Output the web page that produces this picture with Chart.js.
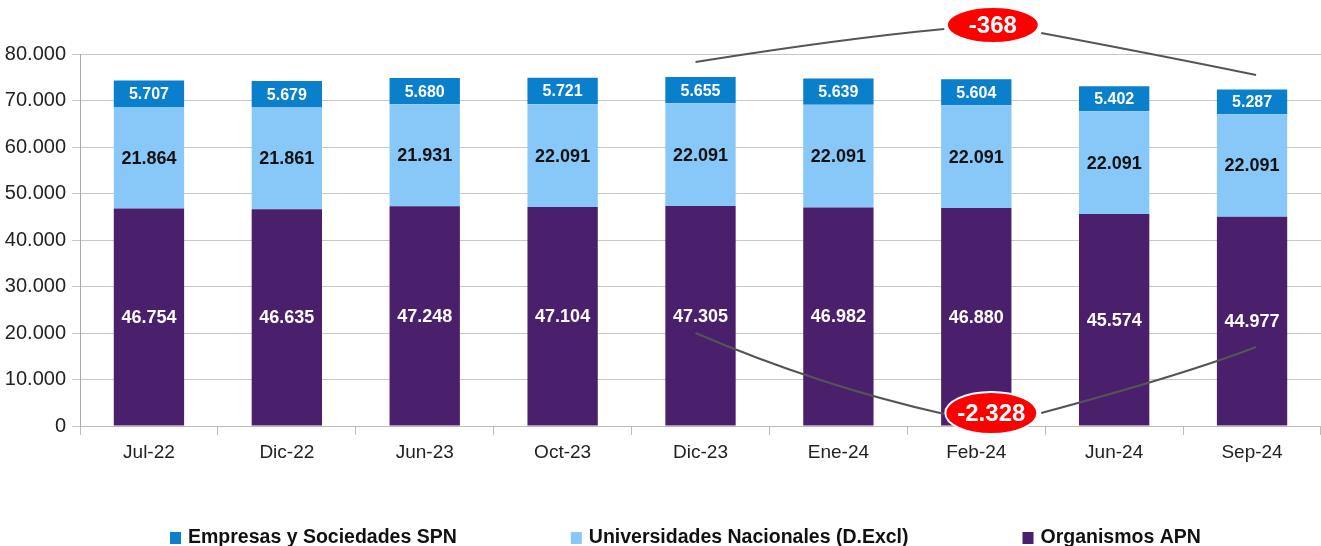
<!DOCTYPE html>
<html>
<head>
<meta charset="utf-8">
<script src="https://cdn.jsdelivr.net/npm/chart.js@4/dist/chart.umd.min.js"></script>
<style>
html,body{margin:0;padding:0;background:#fff;}
#wrap{width:1321px;height:546px;}
</style>
</head>
<body>
<div id="wrap"><canvas id="c" width="1321" height="546"></canvas></div>
<script>
const categories = ['Jul-22','Dic-22','Jun-23','Oct-23','Dic-23','Ene-24','Feb-24','Jun-24','Sep-24'];
const organismosAPN = [46754, 46635, 47248, 47104, 47305, 46982, 46880, 45574, 44977];
const universidades = [21864, 21861, 21931, 22091, 22091, 22091, 22091, 22091, 22091];
const empresasSPN = [5707, 5679, 5680, 5721, 5655, 5639, 5604, 5402, 5287];
const yTicks = [0, 10000, 20000, 30000, 40000, 50000, 60000, 70000, 80000];
const seriesNames = ['Empresas y Sociedades SPN', 'Universidades Nacionales (D.Excl)', 'Organismos APN'];
const diffTop = '-368';
const diffBottom = '-2.328';

const COL_ORG = '#4a1f6b';
const COL_UNI = '#87c8f9';
const COL_EMP = '#0a7fcc';
const FONT = '"Liberation Sans", Arial, sans-serif';

function fmt(v){ return v.toString().replace(/\B(?=(\d{3})+(?!\d))/g, '.'); }

const labelPlugin = {
  id: 'barLabels',
  afterDatasetsDraw(chart){
    const ctx = chart.ctx;
    ctx.save();
    ctx.textAlign = 'center';
    ctx.textBaseline = 'middle';
    const styles = [
      {color:'#ffffff', font:'bold 18px ' + FONT},
      {color:'#111111', font:'bold 18px ' + FONT},
      {color:'#ffffff', font:'bold 16px ' + FONT}
    ];
    chart.data.datasets.forEach((ds, di) => {
      const meta = chart.getDatasetMeta(di);
      meta.data.forEach((bar, i) => {
        const y = (bar.y + bar.base) / 2;
        ctx.fillStyle = styles[di].color;
        ctx.font = styles[di].font;
        ctx.fillText(fmt(ds.data[i]), bar.x, y + 1);
      });
    });
    ctx.restore();
  }
};

const annotPlugin = {
  id: 'annot',
  afterDraw(chart){
    const ctx = chart.ctx;
    const xs = chart.scales.x, ys = chart.scales.y;
    const x0 = xs.getPixelForValue(0), step = xs.getPixelForValue(1) - x0;
    const P = (i, v) => [x0 + i * step, ys.getPixelForValue(v)];
    ctx.save();
    ctx.strokeStyle = '#555555';
    ctx.lineWidth = 2;
    function quad(a, c, b){
      ctx.beginPath();
      ctx.moveTo(a[0], a[1]);
      ctx.quadraticCurveTo(c[0], c[1], b[0], b[1]);
      ctx.stroke();
    }
    // top curve
    quad(P(3.964, 78280), P(5.033, 83333), P(5.768, 85376));
    quad(P(6.471, 84516), P(7.359, 79570), P(8.029, 75484));
    // bottom curve
    quad(P(3.964, 20000), P(4.862, 8602), P(5.768, 2581));
    quad(P(6.471, 2796), P(7.5, 10968), P(8.029, 16989));
    function bubble(c, rx, ry, txt){
      ctx.beginPath();
      ctx.ellipse(c[0], c[1], rx, ry, 0, 0, Math.PI * 2);
      ctx.fillStyle = '#ff0000';
      ctx.fill();
      ctx.lineWidth = 2;
      ctx.strokeStyle = '#ffffff';
      ctx.stroke();
      ctx.fillStyle = '#ffffff';
      ctx.font = 'bold 24px ' + FONT;
      ctx.textAlign = 'center';
      ctx.textBaseline = 'middle';
      ctx.fillText(txt, c[0], c[1] + 1);
    }
    bubble(P(6.12, 86236), 46, 18, diffTop);
    bubble(P(6.109, 2796), 46, 21, diffBottom);
    ctx.restore();
  }
};

const legendPlugin = {
  id: 'customLegend',
  afterDraw(chart){
    const ctx = chart.ctx;
    ctx.save();
    ctx.font = 'bold 19.5px ' + FONT;
    ctx.textBaseline = 'middle';
    const cols = [COL_EMP, COL_UNI, COL_ORG];
    let x = 170;
    const y = 538;
    seriesNames.forEach((name, i) => {
      ctx.fillStyle = cols[i];
      ctx.fillRect(x, y - 6, 11, 12);
      ctx.fillStyle = '#111111';
      ctx.textAlign = 'left';
      ctx.fillText(name, x + 18, y);
      x += 18 + ctx.measureText(name).width + 114;
    });
    ctx.restore();
  }
};

new Chart(document.getElementById('c'), {
  type: 'bar',
  data: {
    labels: categories,
    datasets: [
      {label: seriesNames[2], data: organismosAPN, backgroundColor: COL_ORG, stack: 's'},
      {label: seriesNames[1], data: universidades, backgroundColor: COL_UNI, stack: 's'},
      {label: seriesNames[0], data: empresasSPN, backgroundColor: COL_EMP, stack: 's'}
    ]
  },
  options: {
    responsive: false,
    devicePixelRatio: 1,
    animation: false,
    layout: {padding: {top: 54, left: 0, right: 0, bottom: 0}},
    plugins: {legend: {display: false}, tooltip: {enabled: false}, title: {display: false}},
    datasets: {bar: {categoryPercentage: 1, barPercentage: 0.51}},
    scales: {
      x: {
        stacked: true,
        afterFit(s){ s.height = 120; },
        grid: {display: true, drawOnChartArea: false, offset: true, tickLength: 9, color: '#bbbbbb'},
        border: {color: '#bbbbbb'},
        ticks: {color: '#222222', font: {family: FONT, size: 19}, padding: 6, maxRotation: 0}
      },
      y: {
        stacked: true,
        min: 0, max: 80000,
        afterFit(s){ s.width = 80; },
        afterBuildTicks(s){ s.ticks = yTicks.map(v => ({value: v})); },
        grid: {color: '#c8c8c8', tickLength: 8},
        border: {color: '#aaaaaa'},
        ticks: {color: '#222222', font: {family: FONT, size: 20}, padding: 6, callback: v => fmt(v)}
      }
    }
  },
  plugins: [labelPlugin, annotPlugin, legendPlugin]
});
</script>
</body>
</html>
